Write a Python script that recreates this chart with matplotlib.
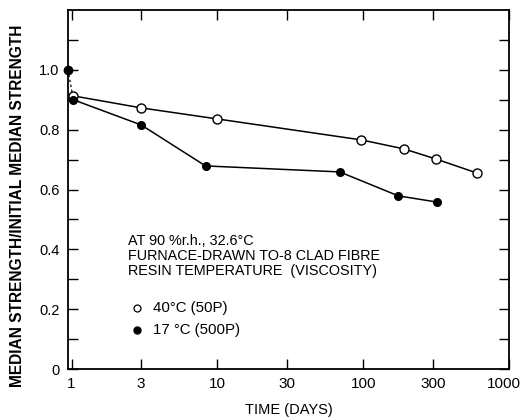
import matplotlib.pyplot as plt
from matplotlib.ticker import FixedLocator, NullLocator
from matplotlib.transforms import ScaledTranslation

plt.rcParams["font.family"] = ["Liberation Sans", "DejaVu Sans"]

# 40 C resin (50P), open circles
days_40 = [1.03, 3.0, 10.0, 97, 190, 316, 605]
strength_40 = [0.913, 0.873, 0.836, 0.766, 0.736, 0.702, 0.655]

# 17 C resin (500P), filled circles
days_17 = [1.03, 3.0, 8.3, 69, 174, 322]
strength_17 = [0.900, 0.816, 0.679, 0.659, 0.579, 0.558]

# initial point on the axis, joined by a short dashed drop
initial_day = 0.945
initial_strength = 1.0

x_ticks = [1, 3, 10, 30, 100, 300, 1000]
x_labels = ["1", "3", "10", "30", "100", "300", "1000"]
y_ticks = [0, 0.2, 0.4, 0.6, 0.8, 1.0]
y_labels = ["0", "0.2", "0.4", "0.6", "0.8", "1.0"]
y_minor = [0.1, 0.3, 0.5, 0.7, 0.9, 1.1]

note_lines = ["AT 90 %r.h., 32.6°C", "FURNACE-DRAWN TO-8 CLAD FIBRE",
              "RESIN TEMPERATURE  (VISCOSITY)"]
note_y = [0.428, 0.378, 0.328]
key_labels = ["40°C (50P)", "17 °C (500P)"]
key_y = [0.204, 0.130]

fig = plt.figure(figsize=(5.21, 4.18), dpi=100)
ax = fig.add_axes([0.1305, 0.117, 0.8465, 0.859])

ax.plot(days_40, strength_40, color="black", lw=1.1, marker="o", ms=6.5,
        mfc="white", mec="black", mew=1.0, zorder=3)
ax.plot(days_17, strength_17, color="black", lw=1.1, marker="o", ms=5.5,
        mfc="black", mec="black", zorder=3)
ax.plot([initial_day, days_17[0]], [initial_strength, strength_17[0]],
        color="black", lw=0.9, ls=(0, (2, 2)), zorder=2)
ax.plot([initial_day], [initial_strength], marker="o", ms=6, color="black",
        clip_on=False, zorder=4)

ax.set_xscale("log")
ax.set_xlim(0.945, 1000)
ax.set_ylim(0, 1.2)

ax.xaxis.set_major_locator(FixedLocator(x_ticks))
ax.set_xticklabels(x_labels, fontsize=11)
ax.xaxis.set_minor_locator(NullLocator())
ax.yaxis.set_major_locator(FixedLocator(y_ticks))
ax.set_yticklabels(y_labels, fontsize=10.5)
ax.yaxis.set_minor_locator(FixedLocator(y_minor))

ax.tick_params(axis="both", which="both", direction="in", top=True, right=True,
               width=1.0)
ax.tick_params(axis="both", which="major", length=7, pad=6)
ax.tick_params(axis="y", which="minor", length=7)

# nudge the last x label so it stays inside the figure
last = ax.get_xticklabels()[-1]
last.set_transform(last.get_transform() + ScaledTranslation(-0.05, 0, fig.dpi_scale_trans))

for spine in ax.spines.values():
    spine.set_linewidth(1.3)

ax.set_xlabel("TIME (DAYS)", fontsize=10.5, labelpad=8)
ax.set_ylabel("MEDIAN STRENGTH/INITIAL MEDIAN STRENGTH", fontsize=11.2,
              fontweight="bold")
ax.yaxis.set_label_coords(-0.097, 0.455)

for line, y in zip(note_lines, note_y):
    ax.text(2.42, y, line, fontsize=10.4, va="center", ha="left")

ax.plot([2.8], [key_y[0]], marker="o", ms=5, mfc="white", mec="black", mew=0.9)
ax.plot([2.8], [key_y[1]], marker="o", ms=5, color="black")
for label, y in zip(key_labels, key_y):
    ax.text(3.6, y, label, fontsize=10.8, va="center", ha="left")

fig.savefig("out.png", dpi=100)
